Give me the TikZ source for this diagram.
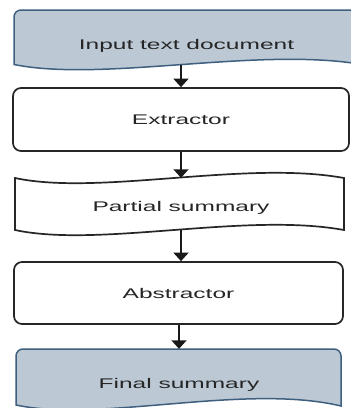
\documentclass[tikz,border=0pt]{standalone}
\usepackage{fontspec}
\setmainfont{Liberation Sans}
\usepackage{tikz}
\usetikzlibrary{arrows.meta,positioning,calc}
\usepackage{xcolor}
\definecolor{docfill}{HTML}{BCC9D5}
\definecolor{docedge}{HTML}{3F5F7F}
\definecolor{txtgray}{HTML}{262626}
\newcommand{\wide}[1]{\scalebox{1.75}[1]{#1}}

\begin{document}
\begin{tikzpicture}[x=1pt,y=-1pt,
    boxtext/.style={font=\fontsize{14}{16}\selectfont, text=txtgray},
    procbox/.style={boxtext, draw=black!85, line width=1.7pt, rounded corners=8pt, inner sep=0pt},
    docnode/.style={boxtext, inner sep=0pt, anchor=base},
    docshape/.style={fill=docfill, draw=docedge, line width=1.5pt},
    pageshape/.style={draw=black!85, line width=1.7pt, fill=white},
    flowarrow/.style={-{Triangle[length=8.5pt,width=15pt]}, line width=1.8pt, black!90}]
    \clip (0,0) rectangle (351,408);
    \fill[white] (0,0) rectangle (351,408);
    % outlines of the document shapes
    \draw[docshape] (14,64.5) [rounded corners=7pt] -- (14,10) -- (362,10) [sharp corners] -- (362,64.5)
        .. controls (258,46.5) and (103,82.5) .. (14,64.5) -- cycle;
    \draw[pageshape] (15,178) .. controls (99,196) and (245,160) .. (344,178) -- (344,230)
        .. controls (245,212) and (99,248) .. (15,230) -- cycle;
    \draw[docshape] (16,405) [rounded corners=7pt] -- (16,349) -- (341,349) [sharp corners] -- (341,406)
        .. controls (245,383) and (100,423) .. (16,405) -- cycle;
    % texts and boxes
    \node[docnode, text height=10pt, text depth=15.5pt] (input) at (186.5,49) {\wide{Input text document}};
    \node[procbox, minimum width=336pt, minimum height=63pt] (extractor) at (181,119.5) {\wide{Extractor}};
    \node[docnode, text height=33.7pt, text depth=18.3pt] (partial) at (181,211.7) {\wide{Partial summary}};
    \node[procbox, minimum width=329pt, minimum height=62pt] (abstractor) at (178.5,293) {\wide{Abstractor}};
    \node[docnode, text height=39pt, text depth=17pt] (final) at (179,388) {\wide{Final summary}};
    % flow
    \draw[flowarrow] (input.south -| extractor.north) -- (extractor.north);
    \draw[flowarrow] (extractor.south) -- (partial.north);
    \draw[flowarrow] (partial.south) -- (partial.south |- abstractor.north);
    \draw[flowarrow] (abstractor.south -| final.north) -- (final.north);
\end{tikzpicture}
\end{document}
